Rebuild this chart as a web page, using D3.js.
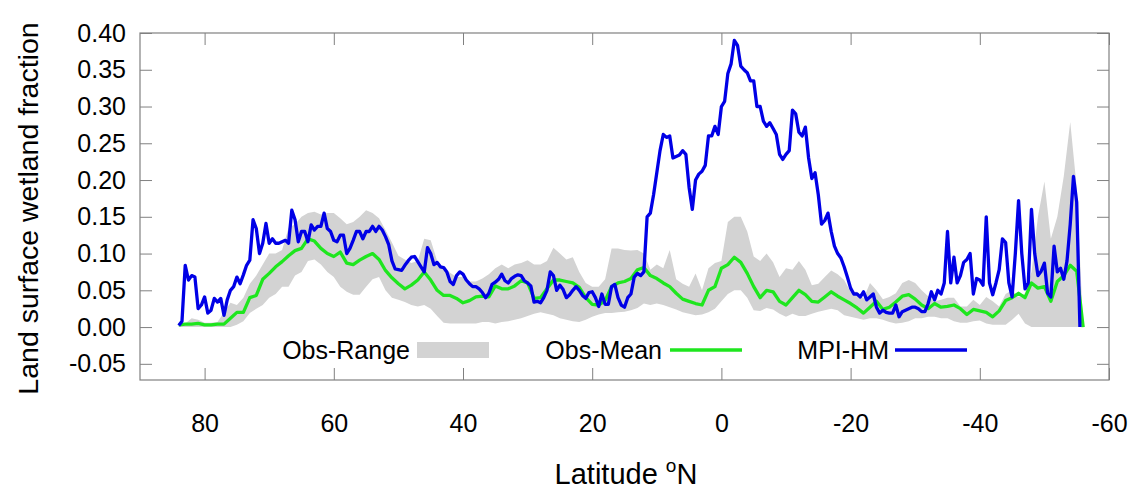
<!DOCTYPE html>
<html>
<head>
<meta charset="utf-8">
<script src="https://cdn.jsdelivr.net/npm/d3@7"></script>
<style>
  body { margin: 0; background: #fff; }
  text { font-family: "Liberation Sans", Arial, sans-serif; fill: #000; }
</style>
</head>
<body>
<svg id="chart" width="1131" height="491"></svg>
<script>
// Latitude grids: model at 0.5 deg, observations at 1 deg (north to south)
const latModel = d3.range(84, -56, -0.5);
const latObs = d3.range(84, -57, -1);

// MPI-HM wetland fraction, 0.5 deg steps from 84N
const mpiHM = [
  0.002, 0.008, 0.084, 0.064, 0.070, 0.068, 0.025, 0.030, 0.041, 0.019,
  0.023, 0.039, 0.034, 0.039, 0.016, 0.037, 0.050, 0.055, 0.068, 0.059,
  0.071, 0.084, 0.091, 0.146, 0.134, 0.100, 0.114, 0.141, 0.114, 0.120,
  0.114, 0.114, 0.116, 0.118, 0.114, 0.159, 0.146, 0.116, 0.130, 0.130,
  0.116, 0.139, 0.132, 0.137, 0.137, 0.155, 0.134, 0.130, 0.118, 0.116,
  0.125, 0.125, 0.100, 0.107, 0.118, 0.130, 0.130, 0.120, 0.130, 0.130,
  0.137, 0.130, 0.137, 0.132, 0.123, 0.112, 0.090, 0.079, 0.078, 0.077,
  0.084, 0.090, 0.095, 0.096, 0.089, 0.082, 0.075, 0.108, 0.100, 0.085,
  0.088, 0.082, 0.081, 0.075, 0.062, 0.058, 0.070, 0.075, 0.072, 0.064,
  0.059, 0.055, 0.055, 0.052, 0.047, 0.040, 0.046, 0.058, 0.061, 0.065,
  0.072, 0.063, 0.060, 0.066, 0.069, 0.071, 0.070, 0.063, 0.060, 0.056,
  0.034, 0.035, 0.033, 0.040, 0.050, 0.075, 0.070, 0.050, 0.057, 0.051,
  0.040, 0.044, 0.050, 0.055, 0.050, 0.043, 0.039, 0.047, 0.048, 0.040,
  0.028, 0.045, 0.031, 0.031, 0.055, 0.058, 0.040, 0.030, 0.027, 0.040,
  0.045, 0.068, 0.073, 0.070, 0.075, 0.150, 0.155, 0.180, 0.210, 0.240,
  0.262, 0.258, 0.260, 0.230, 0.232, 0.234, 0.240, 0.235, 0.190, 0.160,
  0.200, 0.208, 0.212, 0.220, 0.260, 0.260, 0.273, 0.262, 0.300, 0.307,
  0.345, 0.358, 0.390, 0.383, 0.355, 0.350, 0.346, 0.335, 0.335, 0.300,
  0.300, 0.280, 0.273, 0.278, 0.270, 0.262, 0.235, 0.228, 0.235, 0.240,
  0.295, 0.290, 0.265, 0.260, 0.272, 0.230, 0.202, 0.210, 0.180, 0.140,
  0.145, 0.155, 0.130, 0.110, 0.100, 0.094, 0.082, 0.068, 0.053, 0.045,
  0.045, 0.041, 0.048, 0.037, 0.041, 0.045, 0.027, 0.019, 0.023, 0.020,
  0.019, 0.019, 0.030, 0.014, 0.021, 0.023, 0.025, 0.027, 0.027, 0.025,
  0.021, 0.021, 0.032, 0.048, 0.037, 0.050, 0.045, 0.060, 0.130, 0.060,
  0.095, 0.060, 0.070, 0.088, 0.092, 0.100, 0.045, 0.066, 0.064, 0.057,
  0.150, 0.060, 0.044, 0.060, 0.078, 0.120, 0.115, 0.060, 0.041, 0.100,
  0.172, 0.100, 0.052, 0.060, 0.160, 0.100, 0.070, 0.076, 0.087, 0.046,
  0.041, 0.110, 0.075, 0.080, 0.065, 0.090, 0.140, 0.205, 0.170, 0.000
];

// Observation mean, 1 deg steps from 84N
const obsMean = [
  0.003, 0.004, 0.004, 0.005, 0.003, 0.003, 0.004, 0.004, 0.012, 0.020,
  0.020, 0.040, 0.043, 0.065, 0.073, 0.082, 0.089, 0.097, 0.104, 0.107,
  0.120, 0.117, 0.107, 0.100, 0.096, 0.102, 0.087, 0.085, 0.091, 0.096,
  0.100, 0.092, 0.077, 0.067, 0.059, 0.052, 0.057, 0.064, 0.075, 0.064,
  0.050, 0.043, 0.043, 0.039, 0.033, 0.036, 0.041, 0.042, 0.041, 0.056,
  0.052, 0.052, 0.056, 0.063, 0.060, 0.039, 0.040, 0.052, 0.064, 0.064,
  0.062, 0.060, 0.054, 0.040, 0.031, 0.030, 0.036, 0.055, 0.060, 0.062,
  0.066, 0.078, 0.081, 0.070, 0.066, 0.060, 0.055, 0.046, 0.038, 0.035,
  0.032, 0.030, 0.050, 0.055, 0.080, 0.085, 0.095, 0.088, 0.073, 0.055,
  0.040, 0.050, 0.048, 0.035, 0.030, 0.040, 0.050, 0.044, 0.035, 0.034,
  0.041, 0.048, 0.042, 0.037, 0.032, 0.026, 0.019, 0.027, 0.035, 0.024,
  0.027, 0.034, 0.042, 0.044, 0.038, 0.030, 0.025, 0.032, 0.027, 0.028,
  0.030, 0.025, 0.017, 0.024, 0.022, 0.020, 0.014, 0.022, 0.036, 0.040,
  0.046, 0.040, 0.060, 0.053, 0.055, 0.035, 0.062, 0.070, 0.084, 0.076,
  0.000
];

// Observation range: upper and lower bounds, 1 deg steps from 84N
const obsMax = [
  0.003, 0.005, 0.012, 0.010, 0.006, 0.006, 0.007, 0.020, 0.033, 0.030,
  0.040, 0.059, 0.070, 0.085, 0.100, 0.100, 0.105, 0.135, 0.140, 0.150,
  0.155, 0.157, 0.153, 0.155, 0.155, 0.148, 0.140, 0.143, 0.150, 0.159,
  0.155, 0.148, 0.132, 0.115, 0.097, 0.092, 0.087, 0.090, 0.120, 0.118,
  0.090, 0.080, 0.074, 0.068, 0.068, 0.062, 0.062, 0.066, 0.072, 0.080,
  0.085, 0.080, 0.085, 0.087, 0.091, 0.085, 0.085, 0.090, 0.108, 0.100,
  0.092, 0.095, 0.075, 0.060, 0.055, 0.055, 0.065, 0.107, 0.107, 0.105,
  0.104, 0.105, 0.100, 0.078, 0.085, 0.080, 0.105, 0.065, 0.059, 0.055,
  0.073, 0.050, 0.080, 0.087, 0.090, 0.143, 0.150, 0.150, 0.130, 0.096,
  0.090, 0.100, 0.088, 0.068, 0.080, 0.078, 0.090, 0.078, 0.057, 0.059,
  0.068, 0.077, 0.072, 0.064, 0.048, 0.048, 0.039, 0.060, 0.050, 0.038,
  0.041, 0.046, 0.060, 0.064, 0.060, 0.050, 0.042, 0.035, 0.037, 0.040,
  0.040, 0.028, 0.028, 0.037, 0.030, 0.041, 0.035, 0.028, 0.045, 0.050,
  0.041, 0.046, 0.075, 0.150, 0.198, 0.120, 0.150, 0.205, 0.279, 0.190,
  0.000
];
const obsMin = [
  0.000, 0.000, 0.000, 0.000, 0.000, 0.000, 0.000, 0.000, 0.000, 0.003,
  0.008, 0.019, 0.025, 0.030, 0.040, 0.045, 0.055, 0.055, 0.070, 0.075,
  0.090, 0.092, 0.085, 0.075, 0.068, 0.055, 0.048, 0.044, 0.044, 0.055,
  0.065, 0.068, 0.050, 0.040, 0.037, 0.034, 0.030, 0.028, 0.030, 0.025,
  0.015, 0.006, 0.005, 0.005, 0.005, 0.005, 0.005, 0.007, 0.007, 0.005,
  0.007, 0.008, 0.010, 0.012, 0.015, 0.018, 0.020, 0.018, 0.016, 0.012,
  0.010, 0.008, 0.007, 0.010, 0.014, 0.017, 0.019, 0.019, 0.020, 0.021,
  0.023, 0.026, 0.032, 0.030, 0.032, 0.030, 0.027, 0.024, 0.020, 0.018,
  0.016, 0.017, 0.020, 0.025, 0.035, 0.045, 0.050, 0.050, 0.040, 0.023,
  0.022, 0.026, 0.024, 0.018, 0.014, 0.018, 0.015, 0.015, 0.018, 0.021,
  0.023, 0.025, 0.023, 0.016, 0.014, 0.012, 0.010, 0.012, 0.012, 0.010,
  0.007, 0.005, 0.006, 0.008, 0.012, 0.012, 0.014, 0.014, 0.012, 0.012,
  0.008, 0.006, 0.006, 0.008, 0.009, 0.005, 0.003, 0.003, 0.003, 0.010,
  0.018, 0.005, 0.000, 0.000, 0.000, 0.000, 0.000, 0.000, 0.000, 0.000,
  0.000
];

const xTicks = [80, 60, 40, 20, 0, -20, -40, -60];
const yTicks = [-0.05, 0.00, 0.05, 0.10, 0.15, 0.20, 0.25, 0.30, 0.35, 0.40];
const legendLabels = ["Obs-Range", "Obs-Mean", "MPI-HM"];

// Layout
let margin = { top: 33, left: 140, right: 22, bottom: 111 },
    width = 1131 - margin.left - margin.right,
    height = 491 - margin.top - margin.bottom;

let svg = d3.select("#chart");
let g = svg.append("g")
    .attr("transform", "translate(" + margin.left + "," + margin.top + ")");

let x = d3.scaleLinear().domain([90, -60]).range([0, width]);
let y = d3.scaleLinear().domain([-0.072, 0.40]).range([height, 0]);

let frameColor = "#808080";
let tickLen = 12;
let blue = "#0000e6", green = "#1ee61e", grey = "#d3d3d3";

// Observed range band
let band = latObs.map((lat, i) => ({ lat: lat, lo: obsMin[i], hi: obsMax[i] }));
g.append("path")
    .datum(band)
    .attr("fill", grey)
    .attr("d", d3.area()
        .x(d => x(d.lat))
        .y0(d => y(d.lo))
        .y1(d => y(d.hi)));

// Observed mean
let meanPts = latObs.map((lat, i) => ({ lat: lat, v: obsMean[i] }));
g.append("path")
    .datum(meanPts)
    .attr("fill", "none")
    .attr("stroke", green)
    .attr("stroke-width", 3.3)
    .attr("stroke-linejoin", "round")
    .attr("d", d3.line().x(d => x(d.lat)).y(d => y(d.v)));

// Model
let modelPts = latModel.map((lat, i) => ({ lat: lat, v: mpiHM[i] }));
g.append("path")
    .datum(modelPts)
    .attr("fill", "none")
    .attr("stroke", blue)
    .attr("stroke-width", 3.3)
    .attr("stroke-linejoin", "round")
    .attr("d", d3.line().x(d => x(d.lat)).y(d => y(d.v)));

// Axes, ticks on all four sides pointing inward
function styleAxis(sel) {
    sel.select(".domain").remove();
    sel.selectAll(".tick line").attr("stroke", frameColor);
    sel.selectAll(".tick text")
        .style("font-size", "25px")
        .style("font-family", '"Liberation Sans", Arial, sans-serif')
        .attr("fill", "#000");
}

g.append("g")
    .attr("transform", "translate(0," + height + ")")
    .call(d3.axisBottom(x).tickValues(xTicks).tickSizeInner(-tickLen).tickSizeOuter(0)
        .tickPadding(34).tickFormat(d => String(d)))
    .call(styleAxis);

g.append("g")
    .call(d3.axisTop(x).tickValues(xTicks).tickSizeInner(-tickLen).tickSizeOuter(0)
        .tickFormat(""))
    .call(styleAxis);

g.append("g")
    .call(d3.axisLeft(y).tickValues(yTicks).tickSizeInner(-tickLen).tickSizeOuter(0)
        .tickPadding(14).tickFormat(d => d.toFixed(2)))
    .call(styleAxis);

g.append("g")
    .attr("transform", "translate(" + width + ",0)")
    .call(d3.axisRight(y).tickValues(yTicks).tickSizeInner(-tickLen).tickSizeOuter(0)
        .tickFormat(""))
    .call(styleAxis);

// Frame
g.append("rect")
    .attr("x", 0)
    .attr("y", 0)
    .attr("width", width)
    .attr("height", height)
    .attr("fill", "none")
    .attr("stroke", frameColor)
    .attr("stroke-width", 1.2);

// Legend (inside the plot, along the bottom)
let legendY = 350;
let legendText = [410, 662, 889];
let legendSample = [417, 670, 895];
let sampleW = 72;

legendLabels.forEach((label, i) => {
    svg.append("text")
        .attr("x", legendText[i])
        .attr("y", legendY)
        .attr("text-anchor", "end")
        .attr("dominant-baseline", "central")
        .style("font-size", "25px")
        .text(label);
});

svg.append("rect")
    .attr("x", legendSample[0])
    .attr("y", legendY - 8)
    .attr("width", sampleW)
    .attr("height", 16)
    .attr("fill", grey);

svg.append("line")
    .attr("x1", legendSample[1]).attr("x2", legendSample[1] + sampleW)
    .attr("y1", legendY).attr("y2", legendY)
    .attr("stroke", green)
    .attr("stroke-width", 3.3);

svg.append("line")
    .attr("x1", legendSample[2]).attr("x2", legendSample[2] + sampleW)
    .attr("y1", legendY).attr("y2", legendY)
    .attr("stroke", blue)
    .attr("stroke-width", 3.3);

// Axis titles
svg.append("text")
    .attr("transform", "translate(38," + (margin.top + height / 2 + 2) + ") rotate(-90)")
    .attr("text-anchor", "middle")
    .style("font-size", "28.5px")
    .text("Land surface wetland fraction");

let xTitle = svg.append("text")
    .attr("x", 626)
    .attr("y", 484)
    .attr("text-anchor", "middle")
    .style("font-size", "29px");
xTitle.append("tspan").text("Latitude ");
xTitle.append("tspan").attr("dy", -12).style("font-size", "19px").text("o");
xTitle.append("tspan").attr("dy", 12).text("N");
</script>
</body>
</html>
